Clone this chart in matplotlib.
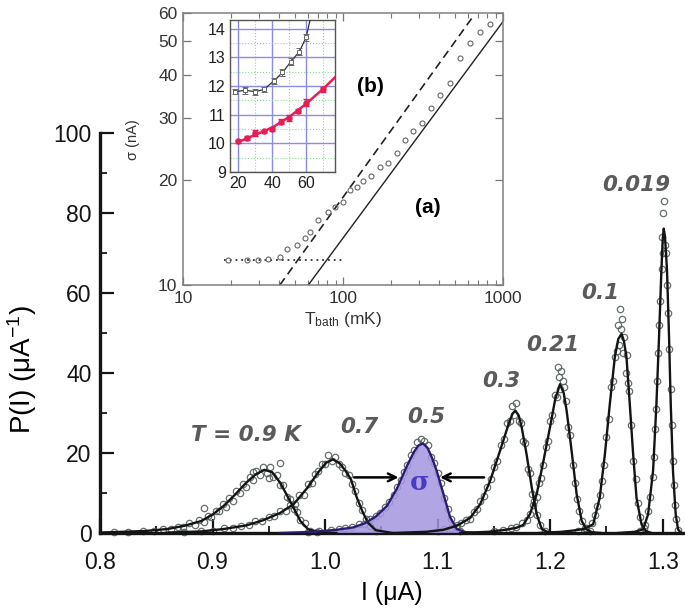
import matplotlib
matplotlib.use("Agg")
import matplotlib.pyplot as plt
from matplotlib.ticker import (MultipleLocator, FixedLocator, NullFormatter,
                               NullLocator, FormatStrFormatter, LogLocator)

plt.rcParams['font.family'] = ['Liberation Sans', 'DejaVu Sans']
plt.rcParams['mathtext.fontset'] = 'custom'
plt.rcParams['mathtext.rm'] = 'Liberation Sans'
plt.rcParams['mathtext.it'] = 'Liberation Sans:italic'
plt.rcParams['mathtext.bf'] = 'Liberation Sans:bold'

# ---------------- main panel: switching-current histograms ----------------
peak_labels = ['T = 0.9 K', '0.7', '0.5', '0.3', '0.21', '0.1', '0.019']

# fitted curves
fit1_I = [0.80, 0.84, 0.86, 0.875, 0.89, 0.90, 0.91, 0.92, 0.93, 0.938, 0.946, 0.953, 0.96, 0.966, 0.972, 0.978, 0.985, 0.995, 1.01]
fit1_P = [0.1, 0.5, 1.0, 1.8, 3.0, 4.6, 6.8, 9.6, 12.6, 14.6, 15.8, 15.2, 12.6, 9.5, 6.3, 3.0, 0.9, 0.2, 0.0]
fit2_I = [0.86, 0.89, 0.91, 0.93, 0.945, 0.96, 0.972, 0.984, 0.994, 1.001, 1.007, 1.013, 1.018, 1.023, 1.028, 1.033, 1.038, 1.045, 1.06]
fit2_P = [0.1, 0.4, 1.0, 1.9, 3.2, 5.0, 7.2, 11.2, 15.2, 17.6, 18.4, 17.4, 15.6, 13.4, 9.0, 5.5, 2.6, 0.7, 0.0]
fit3_I = [0.96, 0.99, 1.01, 1.025, 1.035, 1.045, 1.055, 1.064, 1.0728, 1.079, 1.083, 1.087, 1.091, 1.095, 1.0993, 1.1052, 1.111, 1.117, 1.125, 1.135]
fit3_P = [0.0, 0.3, 0.8, 1.4, 2.4, 4.1, 6.8, 11.2, 16.8, 20.3, 21.9, 22.4, 21.3, 18.8, 15.4, 9.7, 4.0, 1.0, 0.2, 0.0]
fit4_I = [1.06, 1.09, 1.105, 1.117, 1.129, 1.1378, 1.1466, 1.1555, 1.163, 1.1665, 1.169, 1.172, 1.1747, 1.179, 1.1836, 1.188, 1.1925, 1.198, 1.205]
fit4_P = [0.0, 0.3, 0.8, 1.8, 3.8, 7.2, 13.0, 20.6, 27.2, 29.8, 30.6, 29.4, 26.4, 19.7, 11.4, 4.7, 1.0, 0.2, 0.0]
fit5_I = [1.12, 1.145, 1.16, 1.17, 1.176, 1.182, 1.188, 1.194, 1.1998, 1.2045, 1.2087, 1.212, 1.2146, 1.219, 1.2235, 1.228, 1.2323, 1.237, 1.245]
fit5_P = [0.0, 0.3, 0.8, 1.3, 2.0, 4.7, 9.7, 18.0, 26.4, 33.5, 37.2, 35.0, 30.6, 20.6, 9.7, 3.0, 0.9, 0.2, 0.0]
fit6_I = [1.19, 1.21, 1.22, 1.23, 1.2382, 1.244, 1.2486, 1.253, 1.2574, 1.2605, 1.2634, 1.2655, 1.2678, 1.2707, 1.2737, 1.2767, 1.2811, 1.285, 1.29]
fit6_P = [0.0, 0.3, 0.6, 1.0, 2.2, 8.8, 19.7, 32.3, 43.9, 48.5, 49.8, 48.0, 43.9, 32.3, 19.7, 8.8, 2.2, 0.5, 0.0]
fit7_I = [1.26, 1.275, 1.2826, 1.287, 1.2914, 1.2944, 1.2967, 1.2988, 1.3, 1.3009, 1.302, 1.3038, 1.3056, 1.3071, 1.3091, 1.3115, 1.3136, 1.316]
fit7_P = [0.0, 0.3, 0.9, 4.7, 15.5, 32.3, 49.0, 65.7, 73.5, 76.1, 74.0, 65.7, 49.0, 32.3, 15.5, 4.7, 0.9, 0.1]

d1_I = [0.812, 0.825, 0.838, 0.848, 0.856, 0.863, 0.869, 0.874, 0.879, 0.884, 0.888, 0.892, 0.896, 0.899, 0.903,
        0.906, 0.909, 0.912, 0.915, 0.918, 0.921, 0.924, 0.927, 0.930, 0.933, 0.936, 0.939, 0.942, 0.945, 0.948,
        0.951, 0.954, 0.957, 0.960, 0.963, 0.966, 0.969, 0.972, 0.975, 0.978, 0.982, 0.987, 0.993, 0.892, 0.960, 0.936, 0.950]
d1_P = [0.3, 0.2, 0.6, 0.5, 1.1, 0.9, 1.6, 1.4, 2.5, 2.1, 3.3, 2.8, 4.2, 3.9, 5.6,
        5.5, 7.2, 6.4, 8.8, 8.1, 10.6, 10.0, 12.3, 11.5, 13.9, 13.3, 15.5, 14.6, 16.6, 15.0,
        16.4, 14.1, 14.5, 12.0, 11.9, 9.0, 8.6, 5.9, 5.2, 3.2, 2.4, 0.6, 0.3, 6.3, 17.4, 15.2, 13.8]
d2_I = [0.875, 0.89, 0.90, 0.91, 0.918, 0.925, 0.932, 0.938, 0.944, 0.95, 0.955, 0.96, 0.965, 0.969, 0.973,
        0.977, 0.981, 0.985, 0.988, 0.991, 0.994, 0.997, 1.000, 1.003, 1.006, 1.009, 1.012, 1.015, 1.018, 1.021,
        1.024, 1.027, 1.030, 1.033, 1.036, 1.040, 1.045]
d2_P = [0.3, 0.5, 0.6, 1.2, 1.2, 1.8, 2.1, 2.9, 2.9, 4.1, 4.3, 5.4, 5.6, 7.0, 7.3,
        9.4, 9.6, 12.2, 12.5, 14.7, 15.6, 17.3, 17.2, 19.5, 18.0, 19.0, 17.2, 16.5, 15.0, 14.5,
        12.3, 10.5, 7.5, 5.8, 3.5, 1.8, 0.6]
d3_I = [0.985, 0.995, 1.005, 1.012, 1.018, 1.024, 1.030, 1.035, 1.040, 1.045, 1.049, 1.053, 1.057, 1.061, 1.064,
        1.067, 1.070, 1.073, 1.076, 1.079, 1.082, 1.085, 1.088, 1.091, 1.094, 1.097, 1.100, 1.103, 1.106, 1.109,
        1.112, 1.116, 1.120]
d3_P = [0.3, 0.4, 0.8, 0.9, 1.3, 1.5, 2.2, 2.3, 3.4, 4.3, 5.0, 6.4, 7.8, 9.6, 11.4,
        13.2, 15.3, 17.1, 19.5, 20.8, 22.8, 23.6, 23.0, 22.0, 19.0, 17.5, 15.0, 12.5, 8.8, 6.1,
        3.5, 1.4, 0.5]
d4_I = [1.100, 1.106, 1.112, 1.117, 1.121, 1.125, 1.129, 1.132, 1.135, 1.138, 1.141, 1.144, 1.147, 1.150, 1.153,
        1.156, 1.159, 1.162, 1.164, 1.166, 1.168, 1.170, 1.172, 1.174, 1.176, 1.178, 1.180, 1.182, 1.184, 1.186,
        1.188, 1.191, 1.195]
d4_P = [0.5, 0.9, 1.2, 2.0, 2.4, 3.3, 3.6, 5.2, 6.0, 7.9, 9.2, 11.6, 13.5, 16.5, 18.0,
        22.0, 23.5, 27.6, 28.0, 31.8, 29.5, 32.5, 28.0, 27.5, 23.0, 22.5, 16.0, 15.0, 9.8, 8.0,
        4.5, 2.0, 0.6]
d5_I = [1.150, 1.158, 1.165, 1.170, 1.175, 1.179, 1.182, 1.185, 1.188, 1.190, 1.192, 1.194, 1.196, 1.198, 1.200,
        1.202, 1.204, 1.206, 1.208, 1.210, 1.212, 1.214, 1.216, 1.218, 1.220, 1.222, 1.224, 1.226, 1.228, 1.231,
        1.235, 1.207, 1.209, 1.211]
d5_P = [0.4, 0.7, 1.2, 1.6, 2.4, 3.2, 4.8, 7.0, 9.0, 12.5, 13.8, 17.0, 21.5, 23.0, 28.0,
        29.5, 34.5, 34.0, 39.0, 40.5, 36.5, 33.0, 26.5, 24.5, 17.0, 12.5, 8.5, 5.5, 3.0, 1.2,
        0.4, 41.5, 36.0, 38.0]
d6_I = [1.225, 1.232, 1.237, 1.240, 1.242, 1.244, 1.246, 1.248, 1.250, 1.252, 1.254, 1.256, 1.258, 1.259, 1.260,
        1.261, 1.262, 1.263, 1.264, 1.265, 1.266, 1.267, 1.268, 1.269, 1.270, 1.272, 1.274, 1.276, 1.278, 1.280,
        1.283]
d6_P = [0.6, 1.2, 2.4, 4.5, 6.8, 9.5, 13.0, 17.0, 24.0, 28.5, 36.5, 38.0, 44.0, 45.5, 52.0,
        47.0, 56.0, 51.0, 53.5, 45.0, 49.0, 40.0, 44.5, 37.5, 35.5, 27.0, 18.0, 13.5, 7.5, 4.0,
        1.2]
d7_I = [1.280, 1.284, 1.287, 1.289, 1.291, 1.292, 1.293, 1.294, 1.295, 1.296, 1.297, 1.298, 1.299, 1.2995, 1.300,
        1.3005, 1.301, 1.302, 1.303, 1.304, 1.305, 1.306, 1.307, 1.308, 1.309, 1.310, 1.311, 1.312, 1.314]
d7_P = [0.5, 2.0, 5.5, 9.0, 14.0, 19.0, 26.0, 31.0, 38.0, 45.0, 52.0, 58.0, 66.0, 74.0, 70.0,
        80.0, 83.0, 72.0, 70.0, 62.0, 55.0, 46.0, 36.0, 27.0, 18.0, 12.0, 7.0, 3.5, 0.8]

x_ticks = [0.8, 0.9, 1.0, 1.1, 1.2, 1.3]
y_ticks = [0, 20, 40, 60, 80, 100]

# ---------------- inset (a): sigma vs T_bath ----------------
Ta = [19.2, 25, 29.6, 34.2, 40.4, 44.4, 51.4, 57.8, 62.2, 70.1, 81, 89, 100, 110, 122, 134, 150, 170,
      192, 217, 244, 275, 310, 357, 404, 465, 536, 620, 716, 826]
sa = [11.8, 11.8, 11.8, 11.9, 12.05, 12.7, 13.0, 13.6, 14.2, 15.3, 16.2, 16.75, 17.3, 18.7, 19.1, 19.8, 20.5, 21.8,
      22.3, 23.8, 26.0, 27.5, 29.0, 32.0, 34.9, 37.8, 44.5, 49.2, 53.0, 55.9]
dot_T = [18, 100]
dot_s = [11.8, 11.8]
dash_T = [40.3, 637]
dash_s = [10.0, 57.9]
solid_T = [60.7, 1000]
solid_s = [10.0, 56.7]

# ---------------- inset (b): low-temperature zoom ----------------
red_T = [20, 25, 30, 35, 40, 45, 50, 55, 60, 70]
red_s = [10.07, 10.18, 10.35, 10.42, 10.5, 10.76, 10.88, 11.13, 11.42, 11.88]
red_err = [0.06, 0.06, 0.1, 0.06, 0.06, 0.1, 0.1, 0.06, 0.12, 0.1]
redfit_T = [20, 30, 40, 50, 60, 70, 77]
redfit_s = [10.05, 10.3, 10.55, 10.92, 11.38, 11.9, 12.3]
gray_T = [18, 24, 30, 35, 41, 46, 51, 56, 60]
gray_s = [11.8, 11.85, 11.8, 11.88, 12.18, 12.47, 12.85, 13.2, 13.7]
gray_err = [0.08, 0.12, 0.1, 0.1, 0.1, 0.12, 0.12, 0.12, 0.12]
grayline_T = [18, 24, 30, 35, 41, 46, 51, 56, 60, 63]
grayline_s = [11.8, 11.85, 11.8, 11.88, 12.18, 12.47, 12.85, 13.2, 13.7, 14.5]

# =====================================================================
fig = plt.figure(figsize=(6.85, 6.09), dpi=100)
ax = fig.add_axes([100 / 685, 76 / 609, 583 / 685, 400 / 609])
ax.set_xlim(0.8, 1.318)
ax.set_ylim(0, 100)

fits = [(fit1_I, fit1_P), (fit2_I, fit2_P), (fit3_I, fit3_P), (fit4_I, fit4_P),
        (fit5_I, fit5_P), (fit6_I, fit6_P), (fit7_I, fit7_P)]
data = [(d1_I, d1_P), (d2_I, d2_P), (d3_I, d3_P), (d4_I, d4_P),
        (d5_I, d5_P), (d6_I, d6_P), (d7_I, d7_P)]

for I, P in data:
    ax.plot(I, P, ls='none', marker='o', ms=4.6, mfc='none', mec='#56615f',
            mew=0.9, alpha=0.9, zorder=2, clip_on=False)

ax.fill_between(fit3_I, 0, fit3_P, facecolor='#a596e0', alpha=0.85, lw=0, zorder=3)
for k, (I, P) in enumerate(fits):
    col = '#2b1c72' if k == 2 else '#141414'
    ax.plot(I, P, color=col, lw=1.7, zorder=4)

label_pos = [(0.9293, 24.5), (1.0302, 26.6), (1.0902, 28.9), (1.1569, 38.0),
             (1.2022, 47.0), (1.2449, 59.9), (1.2769, 86.9)]
for txt, (x, y) in zip(peak_labels, label_pos):
    ax.text(x, y, txt, ha='center', va='center', fontsize=15.5, color='#5a5a5a',
            family='DejaVu Sans', weight='bold', style='italic', zorder=6)

# sigma marker
arrow_kw = dict(arrowstyle='->', lw=1.8, color='black', mutation_scale=14, shrinkA=0, shrinkB=0)
ax.annotate('', xy=(1.0652, 13.9), xytext=(1.0258, 13.9), arrowprops=arrow_kw, zorder=6)
ax.annotate('', xy=(1.1022, 13.9), xytext=(1.1413, 13.9), arrowprops=arrow_kw, zorder=6)
ax.text(1.0836, 12.6, 'σ', ha='center', va='center', fontsize=19, color='#4a3bc6',
        family='DejaVu Serif', weight='bold', zorder=6)

for s in ['top', 'right']:
    ax.spines[s].set_visible(False)
for s in ['left', 'bottom']:
    ax.spines[s].set_linewidth(2.4)
    ax.spines[s].set_color('#151515')
ax.xaxis.set_major_locator(FixedLocator(x_ticks))
ax.xaxis.set_minor_locator(MultipleLocator(0.05))
ax.xaxis.set_major_formatter(FormatStrFormatter('%.1f'))
ax.yaxis.set_major_locator(FixedLocator(y_ticks))
ax.yaxis.set_minor_locator(MultipleLocator(10))
ax.tick_params(which='both', direction='in', top=False, right=False, color='#151515')
ax.tick_params(which='major', length=10, width=1.6, labelsize=16.5, colors='#151515')
ax.tick_params(which='minor', length=5, width=1.3)
ax.tick_params(axis='x', which='major', pad=13)
ax.tick_params(axis='y', which='major', pad=6)
ax.set_xlabel('I (μA)', fontsize=18, labelpad=5)
ax.set_ylabel('P(I) (μA$^{\\mathregular{-1}}$)', fontsize=20)
ax.yaxis.set_label_coords(-0.105, 0.4075)

# ---------------- inset (a) ----------------
axa = fig.add_axes([183 / 685, 324 / 609, 320 / 685, 272 / 609])
axa.set_xscale('log')
axa.set_yscale('log')
axa.set_xlim(10, 1000)
axa.set_ylim(10, 60)
axa.plot(dot_T, dot_s, ls=(0, (1, 2.2)), color='#333333', lw=1.3)
axa.plot(dash_T, dash_s, ls=(0, (5, 3)), color='#222222', lw=1.2)
axa.plot(solid_T, solid_s, ls='-', color='#222222', lw=1.0)
axa.plot(Ta, sa, ls='none', marker='o', ms=3.6, mfc='none', mec='#666666', mew=0.8)
axa.yaxis.set_major_locator(FixedLocator([10, 20, 30, 40, 50, 60]))
axa.yaxis.set_major_formatter(FormatStrFormatter('%d'))
axa.yaxis.set_minor_locator(NullLocator())
axa.xaxis.set_major_locator(FixedLocator([10, 100, 1000]))
axa.xaxis.set_major_formatter(FormatStrFormatter('%d'))
axa.xaxis.set_minor_locator(LogLocator(base=10, subs=range(2, 10)))
axa.xaxis.set_minor_formatter(NullFormatter())
axa.tick_params(which='both', direction='in', top=True, right=True, color='#777777')
axa.tick_params(which='major', length=6, width=0.9, labelsize=12.5, pad=4, labelcolor='#333333')
axa.tick_params(which='minor', length=3.5, width=0.8)
for s in axa.spines.values():
    s.set_color('#808080')
    s.set_linewidth(1.1)
axa.set_xlabel('T$_{\\mathregular{bath}}$ (mK)', fontsize=12.5, labelpad=3, color='#333333')
axa.set_ylabel('σ (nA)', fontsize=10.5, color='#333333')
axa.yaxis.set_label_coords(-0.135, 0.533)
axa.text(337, 16.7, '(a)', ha='center', va='center', fontsize=15, weight='bold')
axa.text(147.5, 36.9, '(b)', ha='center', va='center', fontsize=15, weight='bold')

# ---------------- inset (b) ----------------
axb = fig.add_axes([230 / 685, 437 / 609, 105 / 685, 152 / 609])
axb.set_xlim(15, 77)
axb.set_ylim(9, 14.3)
axb.xaxis.set_major_locator(FixedLocator([20, 40, 60]))
axb.xaxis.set_minor_locator(FixedLocator([30, 50, 70]))
axb.yaxis.set_major_locator(MultipleLocator(1))
axb.yaxis.set_minor_locator(MultipleLocator(0.5))
axb.grid(which='major', color='#8c8ce8', lw=1.0)
axb.grid(which='minor', color='#8fd88f', lw=0.8, ls=':')
axb.set_axisbelow(True)
axb.plot(grayline_T, grayline_s, color='#333333', lw=0.9, zorder=3)
axb.errorbar(gray_T, gray_s, yerr=gray_err, ls='none', marker='s', ms=3, mfc='white',
             mec='#666666', mew=0.7, ecolor='#666666', elinewidth=0.7, capsize=2, zorder=4)
axb.plot(redfit_T, redfit_s, color='#e81d55', lw=1.8, zorder=3)
axb.errorbar(red_T, red_s, yerr=red_err, ls='none', marker='o', ms=3.6, mfc='#e81d55',
             mec='#e81d55', ecolor='#e81d55', elinewidth=0.8, capsize=2, zorder=4)
axb.tick_params(which='both', direction='in', length=0, labelsize=11.5, pad=3, labelcolor='#222222')
for s in axb.spines.values():
    s.set_color('#555555')
    s.set_linewidth(1.0)

fig.savefig('out.png', dpi=100)
